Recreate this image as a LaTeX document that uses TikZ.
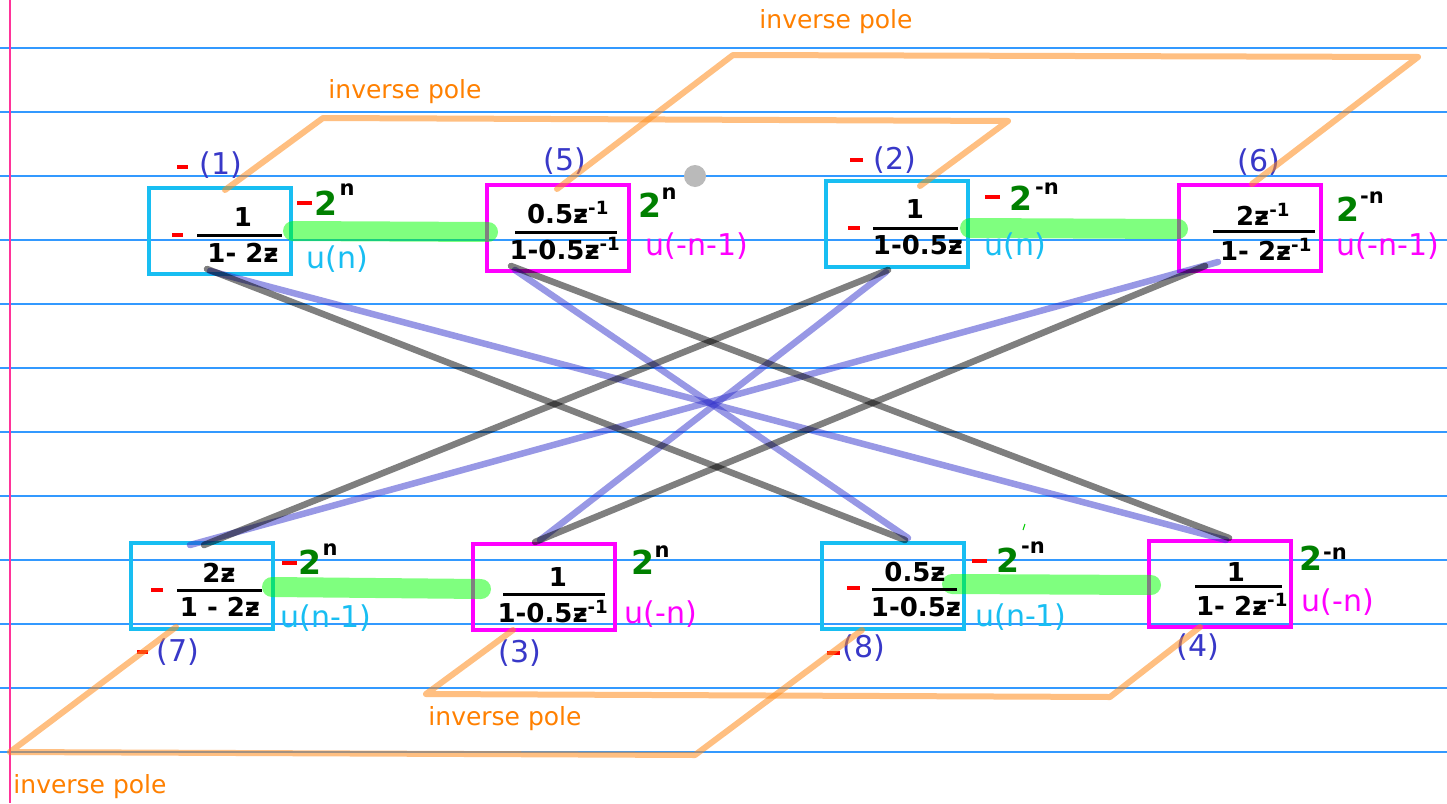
\documentclass[tikz,border=0pt]{standalone}
\usepackage{fontspec}
\setmainfont{DejaVu Sans}
\usetikzlibrary{calc}
\definecolor{rulecol}{HTML}{3399FF}
\definecolor{margincol}{HTML}{FF3399}
\definecolor{boxcyan}{HTML}{18BEF2}
\definecolor{boxmag}{HTML}{FF00FF}
\definecolor{numblue}{HTML}{3838C8}
\definecolor{gtwo}{HTML}{008000}
\definecolor{hlgreen}{HTML}{00FF00}
\definecolor{orangeline}{HTML}{FF8C1A}
\definecolor{orangetext}{HTML}{FF8000}
\definecolor{crossblue}{HTML}{3333CC}
\definecolor{redmark}{HTML}{FF0000}
\tikzset{
  cbox/.style={draw=boxcyan, line width=3.5pt, minimum width=142pt, minimum height=86pt, inner sep=0},
  mbox/.style={draw=boxmag, line width=3.5pt, minimum width=142pt, minimum height=86pt, inner sep=0},
  fr/.style={font=\bfseries\fontsize{26}{28}\selectfont, inner sep=0, text=black},
  fbar/.style={line width=3pt, black},
  lbl/.style={font=\fontsize{30}{34}\selectfont, inner sep=0},
  numlbl/.style={lbl, text=numblue},
  ulc/.style={lbl, text=boxcyan},
  ulm/.style={lbl, text=boxmag},
  two/.style={font=\bfseries\fontsize{33}{38}\selectfont, inner sep=0, text=gtwo},
  expo/.style={font=\bfseries\fontsize{21}{22}\selectfont, inner sep=0, text=black},
  redm/.style={line width=3.5pt, redmark},
  hl/.style={line width=20pt, hlgreen, opacity=0.5, line cap=round},
  pole/.style={line width=6pt, orangeline, opacity=0.55, line cap=round, line join=round},
  poletxt/.style={font=\fontsize{25}{28}\selectfont, text=orangetext, inner sep=0},
  kline/.style={line width=6.5pt, black, opacity=0.5, line cap=round},
  bline/.style={line width=6.5pt, crossblue, opacity=0.5, line cap=round},
}
\begin{document}
\begin{tikzpicture}[x=1pt,y=-1pt]
\useasboundingbox (0,0) rectangle (1447,803);
\fill[white] (0,0) rectangle (1447,803);
% ruled paper
\foreach \yy in {48,112,...,752} \draw[rulecol, line width=1.3pt] (0,\yy) -- (1447,\yy);
\draw[margincol, line width=1.2pt] (10,0) -- (10,803);

% boxes
\node[cbox] (b1) at (220,231) {};
\node[mbox] (b5) at (558,228) {};
\node[cbox] (b2) at (897,224) {};
\node[mbox] (b6) at (1250,228) {};
\node[cbox] (b7) at (202,586) {};
\node[mbox] (b3) at (544,587) {};
\node[cbox] (b8) at (893,586) {};
\node[mbox] (b4) at (1220,584) {};

% green highlights
\coordinate (h1a) at (293,231); \coordinate (h1b) at (488,232);
\coordinate (h2a) at (970,228); \coordinate (h2b) at (1178,229);
\coordinate (h3a) at (272,587); \coordinate (h3b) at (481,589);
\coordinate (h4a) at (952,584); \coordinate (h4b) at (1151,585);
\draw[hl] (h1a) -- (h1b);
\draw[hl] (h2a) -- (h2b);
\draw[hl] (h3a) -- (h3b);
\draw[hl] (h4a) -- (h4b);

% fractions
\node[fr] (n1) at (243,217) {1};
\node[fr] (d1) at (243,253) {1- 2ƶ};
\draw[fbar] (197,235) -- (282,235);
\draw[redm] (172,235) -- (183,235);

\node[fr] (n5) at (568,213) {0.5ƶ\textsuperscript{-1}};
\draw[fbar] (515,232) -- (617,232);
\node[fr] (d5) at (565,249) {1-0.5ƶ\textsuperscript{-1}};

\node[fr] (n2) at (915,209) {1};
\draw[fbar] (873,228) -- (958,228);
\node[fr] (d2) at (918,245) {1-0.5ƶ};
\draw[redm] (848,228) -- (860,228);

\node[fr] (n6) at (1263,214) {2ƶ\textsuperscript{-1}};
\draw[fbar] (1213,231) -- (1315,231);
\node[fr] (d6) at (1266,249) {1- 2ƶ\textsuperscript{-1}};

\node[fr] (n7) at (219,573) {2ƶ};
\draw[fbar] (177,590) -- (262,590);
\node[fr] (d7) at (220,607) {1 - 2ƶ};
\draw[redm] (151,590) -- (163,590);

\node[fr] (n3) at (558,577) {1};
\draw[fbar] (503,594) -- (605,594);
\node[fr] (d3) at (553,612) {1-0.5ƶ\textsuperscript{-1}};

\node[fr] (n8) at (915,572) {0.5ƶ};
\draw[fbar] (872,589) -- (957,589);
\node[fr] (d8) at (916,607) {1-0.5ƶ};
\draw[redm] (847,588) -- (860,588);

\node[fr] (n4) at (1236,572) {1};
\draw[fbar] (1195,586) -- (1282,586);
\node[fr] (d4) at (1242,604) {1- 2ƶ\textsuperscript{-1}};

% 2^n labels
\draw[redm] (297,203) -- (312,203);
\node[two] (t1) at (326,203) {2}; \node[expo] (e1) at (347,190) {n};
\node[two] (t5) at (650,205) {2}; \node[expo] (e5) at (669,194) {n};
\draw[redm] (985,197) -- (1000,197);
\node[two] (t2) at (1021,198) {2}; \node[expo] (e2) at (1047,189) {-n};
\node[two] (t6) at (1348,209) {2}; \node[expo] (e6) at (1372,198) {-n};
\draw[redm] (282,563) -- (297,563);
\node[two] (t7) at (310,562) {2}; \node[expo] (e7) at (330,550) {n};
\node[two] (t3) at (643,562) {2}; \node[expo] (e3) at (662,552) {n};
\draw[redm] (972,561) -- (987,561);
\node[two] (t8) at (1008,560) {2}; \node[expo] (e8) at (1033,548) {-n};
\node[two] (t4) at (1311,558) {2}; \node[expo] (e4) at (1335,554) {-n};

% u(.) labels
\node[ulc] (u1) at (337,259) {u(n)};
\node[ulm] (u5) at (697,246) {u(-n-1)};
\node[ulc] (u2) at (1015,246) {u(n)};
\node[ulm] (u6) at (1388,246) {u(-n-1)};
\node[ulc] (u7) at (326,618) {u(n-1)};
\node[ulm] (u3) at (661,614) {u(-n)};
\node[ulc] (u8) at (1021,617) {u(n-1)};
\node[ulm] (u4) at (1338,602) {u(-n)};

% number labels
\draw[redm] (177,167) -- (188,167);
\node[numlbl] (l1) at (221,165) {(1)};
\node[numlbl] (l5) at (565,161) {(5)};
\draw[redm] (850,160) -- (863,160);
\node[numlbl] (l2) at (895,160) {(2)};
\node[numlbl] (l6) at (1259,162) {(6)};
\draw[redm] (137,652) -- (148,652);
\node[numlbl] (l7) at (178,652) {(7)};
\node[numlbl] (l3) at (520,653) {(3)};
\draw[redm] (827,653) -- (840,653);
\node[numlbl] (l8) at (864,648) {(8)};
\node[numlbl] (l4) at (1198,647) {(4)};

% grey dot and small tick
\node[circle, fill=black!27, minimum size=22pt, inner sep=0] (dot) at (695,176) {};
\coordinate (tk1) at (1025,524); \coordinate (tk2) at (1023,530);
\draw[hlgreen!80!black, line width=1pt] (tk1) -- (tk2);

% inverse pole paths
\coordinate (p1a) at (225,190); \coordinate (p1b) at (323,118);
\coordinate (p1c) at (1008,121); \coordinate (p1d) at (920,186);
\draw[pole] (p1a) -- (p1b) -- (p1c) -- (p1d);
\coordinate (p2a) at (557,189); \coordinate (p2b) at (733,55);
\coordinate (p2c) at (1418,57); \coordinate (p2d) at (1252,184);
\draw[pole] (p2a) -- (p2b) -- (p2c) -- (p2d);
\coordinate (p3a) at (176,627); \coordinate (p3b) at (10,752);
\coordinate (p3c) at (695,755); \coordinate (p3d) at (862,630);
\draw[pole] (p3a) -- (p3b) -- (p3c) -- (p3d);
\coordinate (p4a) at (513,630); \coordinate (p4b) at (426,694);
\coordinate (p4c) at (1110,697); \coordinate (p4d) at (1200,627);
\draw[pole] (p4a) -- (p4b) -- (p4c) -- (p4d);

\node[poletxt] (ip1) at (836,22) {inverse pole};
\node[poletxt] (ip2) at (405,92) {inverse pole};
\node[poletxt] (ip3) at (505,719) {inverse pole};
\node[poletxt] (ip4) at (90,787) {inverse pole};

% cross connections
\coordinate (k1a) at (207,269); \coordinate (k1b) at (905,540);
\coordinate (k2a) at (511,266); \coordinate (k2b) at (1229,538);
\coordinate (k3a) at (888,270); \coordinate (k3b) at (204,545);
\coordinate (k4a) at (1205,266); \coordinate (k4b) at (535,542);
\coordinate (q1a) at (210,271); \coordinate (q1b) at (1226,540);
\coordinate (q2a) at (515,270); \coordinate (q2b) at (908,538);
\coordinate (q3a) at (886,272); \coordinate (q3b) at (540,540);
\coordinate (q4a) at (1218,262); \coordinate (q4b) at (190,545);
\draw[bline] (q1a) -- (q1b);
\draw[bline] (q2a) -- (q2b);
\draw[bline] (q3a) -- (q3b);
\draw[bline] (q4a) -- (q4b);
\draw[kline] (k1a) -- (k1b);
\draw[kline] (k2a) -- (k2b);
\draw[kline] (k3a) -- (k3b);
\draw[kline] (k4a) -- (k4b);
\end{tikzpicture}
\end{document}
